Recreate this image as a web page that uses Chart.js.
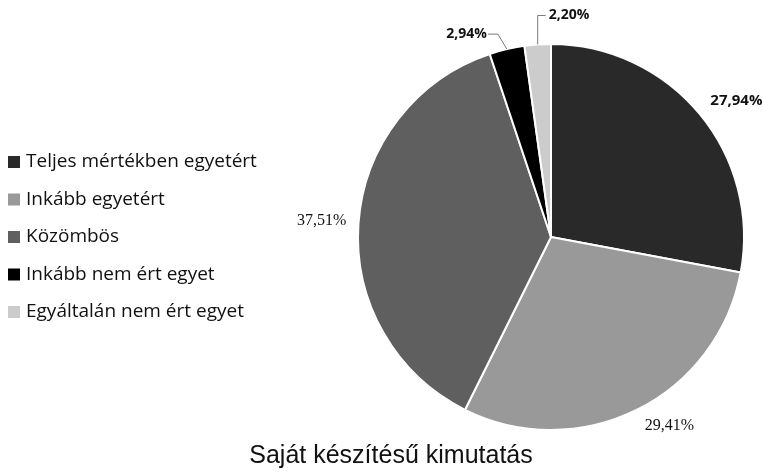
<!DOCTYPE html>
<html lang="hu">
<head>
    <meta charset="UTF-8">
    <title>Saját készítésű kimutatás</title>
    <style>
        html, body { margin: 0; padding: 0; background: #fff; }
        .wrap { width: 763px; height: 473px; position: relative; }
    </style>
</head>
<body>

    <div class="wrap">
        <canvas id="myChart" width="763" height="473"></canvas>
    </div>

    <script src="https://cdn.jsdelivr.net/npm/chart.js@4.4.1/dist/chart.umd.min.js"></script>
    <script>
        var labels = [
            'Teljes mértékben egyetért',
            'Inkább egyetért',
            'Közömbös',
            'Inkább nem ért egyet',
            'Egyáltalán nem ért egyet'
        ];
        var values = [27.94, 29.41, 37.51, 2.94, 2.20];
        var colors = ['#292929', '#999999', '#5f5f5f', '#000000', '#cccccc'];
        var caption = 'Saját készítésű kimutatás';

        function fmt(v) {
            return v.toFixed(2).replace('.', ',') + '%';
        }

        // legend on the left + caption, drawn by hand
        var legendPlugin = {
            id: 'sideLegend',
            afterDraw: function (chart) {
                var ctx = chart.ctx;
                ctx.save();
                ctx.font = '19px "Open Sans", sans-serif';
                ctx.textBaseline = 'middle';
                ctx.textAlign = 'left';
                for (var i = 0; i < labels.length; i++) {
                    var y = 162 + i * 37.5;
                    ctx.fillStyle = colors[i];
                    ctx.fillRect(8, y - 6, 12, 12);
                    ctx.fillStyle = '#111';
                    ctx.fillText(labels[i], 26, y);
                }
                ctx.font = '25px "Liberation Sans", Arial, sans-serif';
                ctx.textAlign = 'center';
                ctx.fillStyle = '#111';
                ctx.fillText(caption, 391, 456);
                ctx.restore();
            }
        };

        // percentage labels, placed from each arc's angles
        var labelPlugin = {
            id: 'sliceLabels',
            afterDraw: function (chart) {
                var ctx = chart.ctx;
                var arcs = chart.getDatasetMeta(0).data;
                var extra = [22, 28, 42, 0, 0];
                var nudge = [[20, 1], [20, -9], [5, 0]];
                var serif = [false, true, true, false, false];
                ctx.save();
                ctx.textBaseline = 'middle';
                ctx.textAlign = 'center';
                for (var i = 0; i < arcs.length; i++) {
                    var a = arcs[i];
                    var mid = (a.startAngle + a.endAngle) / 2;
                    var ex = a.x + Math.cos(mid) * a.outerRadius;
                    var ey = a.y + Math.sin(mid) * a.outerRadius;
                    ctx.fillStyle = '#111';
                    if (i < 3) {
                        var r = a.outerRadius + extra[i];
                        var tx = a.x + Math.cos(mid) * r + nudge[i][0];
                        var ty = a.y + Math.sin(mid) * r + nudge[i][1];
                        ctx.font = serif[i] ? '16px "Liberation Serif", serif' : 'bold 15px "Open Sans", sans-serif';
                        ctx.fillText(fmt(values[i]), tx, ty);
                    } else {
                        ctx.strokeStyle = '#7a7a7a';
                        ctx.lineWidth = 1;
                        ctx.font = 'bold 14px "Open Sans", sans-serif';
                        ctx.beginPath();
                        if (i === 3) {
                            ctx.moveTo(ex, ey);
                            ctx.lineTo(ex - 9, ey - 15);
                            ctx.lineTo(ex - 19, ey - 15);
                            ctx.stroke();
                            ctx.textAlign = 'right';
                            ctx.fillText(fmt(values[i]), ex - 20, ey - 15);
                        } else {
                            ctx.moveTo(ex, ey);
                            ctx.lineTo(ex, ey - 29);
                            ctx.lineTo(ex + 8, ey - 29);
                            ctx.stroke();
                            ctx.textAlign = 'left';
                            ctx.fillText(fmt(values[i]), ex + 11, ey - 29);
                        }
                    }
                }
                ctx.restore();
            }
        };

        var ctx = document.getElementById('myChart').getContext('2d');
        var myChart = new Chart(ctx, {
            type: 'pie',
            data: {
                labels: labels,
                datasets: [{
                    data: values,
                    backgroundColor: colors,
                    borderColor: '#ffffff',
                    borderWidth: 2
                }]
            },
            options: {
                responsive: false,
                animation: false,
                layout: {
                    padding: { left: 357, right: 18, top: 43, bottom: 42 }
                },
                plugins: {
                    legend: { display: false },
                    tooltip: { enabled: false }
                }
            },
            plugins: [legendPlugin, labelPlugin]
        });
    </script>

</body>
</html>
